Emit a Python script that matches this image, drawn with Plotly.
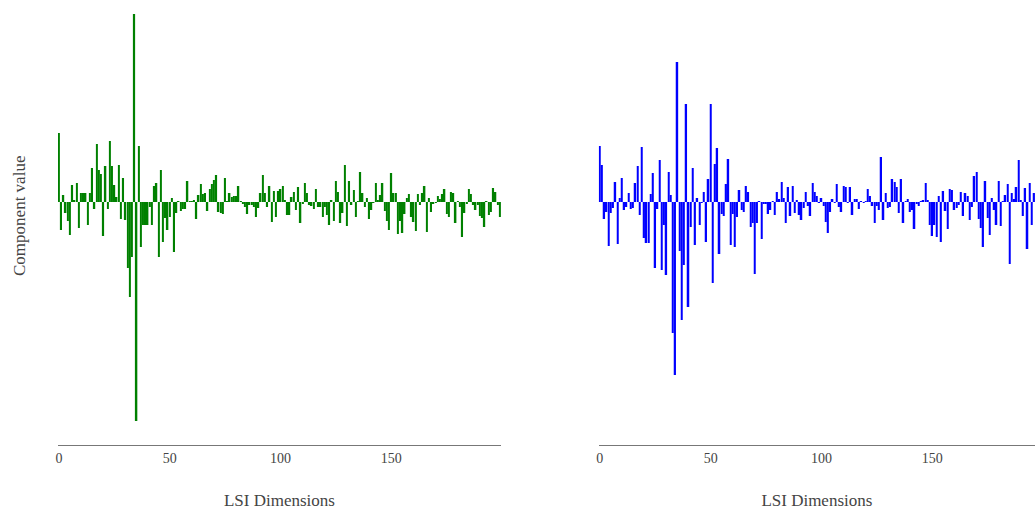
import plotly.graph_objects as go

# LSI component values for two topic vectors (index = LSI dimension)
comp_a = [
    0.069, -0.028, 0.007, -0.011, -0.019, -0.033, 0.017, 0.002, 0.019, -0.026,
    0.009, 0.009, 0.009, -0.023, 0.009, 0.034, -0.007, 0.058, 0.032, 0.028,
    -0.034, 0.036, -0.007, 0.061, 0.036, 0.017, 0.005, 0.037, -0.017, 0.024,
    -0.018, -0.066, -0.095, -0.055, 0.188, -0.219, 0.056, -0.045, -0.023, -0.023,
    -0.023, -0.005, -0.023, 0.016, 0.019, -0.055, 0.032, -0.040, -0.016, -0.028,
    -0.015, 0.004, -0.050, -0.011, 0.001, -0.009, -0.007, -0.007, 0.021, 0.001,
    0.001, 0.002, -0.017, 0.007, 0.018, 0.008, 0.009, -0.009, 0.013, 0.018,
    0.022, 0.027, -0.010, -0.011, -0.012, 0.024, 0.001, 0.009, 0.005, 0.006,
    0.006, 0.016, 0.001, -0.002, -0.005, -0.012, -0.003, -0.003, -0.005, -0.015,
    -0.006, 0.009, 0.027, 0.009, -0.005, 0.016, -0.020, 0.011, -0.015, 0.011,
    0.013, 0.016, 0.002, -0.013, -0.013, 0.005, 0.010, -0.008, 0.015, -0.021,
    -0.002, 0.019, 0.009, -0.003, -0.004, -0.007, 0.013, -0.005, -0.005, -0.015,
    -0.005, -0.013, -0.023, 0.002, -0.019, 0.021, 0.010, -0.021, -0.011, 0.037,
    -0.024, 0.021, -0.003, 0.012, -0.015, 0.001, 0.030, 0.009, -0.005, 0.004,
    -0.017, -0.008, -0.001, 0.019, 0.002, 0.007, 0.019, -0.009, -0.019, -0.028,
    0.029, 0.009, 0.009, -0.032, -0.019, -0.031, -0.012, 0.004, 0.008, -0.015,
    -0.020, -0.029, 0.008, -0.003, 0.009, 0.016, -0.030, 0.004, -0.010, -0.002,
    -0.001, 0.006, 0.003, 0.008, 0.013, -0.012, -0.015, 0.010, 0.009, -0.021,
    0.001, -0.005, -0.035, -0.011, -0.002, 0.013, 0.008, -0.003, -0.008, -0.003,
    -0.014, -0.016, -0.025, 0.001, -0.013, -0.010, 0.014, 0.010, -0.003, -0.015,
]

comp_b = [
    0.056, 0.037, -0.017, -0.010, -0.044, -0.011, -0.006, 0.020, -0.042, 0.004,
    0.024, -0.008, -0.005, 0.009, -0.007, -0.006, 0.019, 0.036, -0.013, 0.055,
    -0.036, -0.041, -0.041, 0.008, 0.029, -0.066, -0.007, 0.042, -0.068, -0.023,
    -0.073, 0.030, 0.007, -0.131, -0.173, 0.140, -0.049, -0.118, -0.063, 0.098,
    -0.105, -0.025, 0.034, -0.043, 0.004, -0.023, -0.001, 0.010, -0.040, 0.023,
    0.098, -0.081, 0.038, 0.054, -0.052, -0.012, -0.014, 0.018, 0.043, -0.043,
    -0.012, -0.045, -0.015, 0.012, -0.008, -0.010, 0.016, 0.010, -0.025, -0.021,
    -0.072, -0.021, 0.001, -0.037, -0.002, -0.002, -0.012, -0.008, 0.001, -0.013,
    0.010, 0.003, 0.020, 0.004, -0.021, 0.015, -0.014, 0.016, -0.011, 0.002,
    -0.013, -0.018, -0.006, 0.010, -0.004, -0.014, 0.019, 0.010, 0.006, -0.001,
    0.004, -0.004, -0.020, -0.031, -0.010, 0.003, -0.001, 0.018, -0.005, -0.010,
    0.016, 0.015, -0.001, 0.015, -0.013, 0.003, 0.003, -0.007, 0.001, -0.001,
    0.001, 0.013, 0.006, -0.004, -0.021, -0.004, -0.008, 0.045, -0.018, 0.009,
    -0.006, -0.005, 0.023, 0.020, 0.015, -0.011, 0.023, -0.021, 0.001, 0.003,
    -0.010, -0.008, -0.027, -0.002, -0.004, 0.001, 0.002, 0.019, 0.002, -0.023,
    -0.034, -0.023, -0.035, 0.006, -0.040, 0.011, -0.009, -0.027, 0.013, 0.012,
    -0.008, -0.006, -0.003, 0.010, -0.014, 0.009, 0.006, -0.018, -0.005, 0.026,
    0.030, -0.017, -0.026, -0.045, 0.021, -0.016, -0.033, 0.004, -0.008, -0.023,
    0.021, -0.024, 0.001, 0.007, 0.018, -0.062, 0.009, 0.003, 0.015, 0.042,
    0.002, -0.014, 0.014, -0.047, 0.019, -0.023, 0.009,
]

dims_a = list(range(len(comp_a)))
dims_b = list(range(len(comp_b)))

tick_vals = [0, 50, 100, 150]
x_title = "LSI Dimensions"
y_title = "Component value"

W, H = 1035, 510
FONT = "Liberation Serif"
TEXT = "#444"

fig = go.Figure()
fig.add_trace(go.Bar(x=dims_a, y=comp_a, marker=dict(color="green", line_width=0),
                     xaxis="x", yaxis="y"))
fig.add_trace(go.Bar(x=dims_b, y=comp_b, marker=dict(color="blue", line_width=0),
                     xaxis="x2", yaxis="y2"))

y_range = [-0.243, 0.202]
common_x = dict(
    tickvals=tick_vals, ticks="", showgrid=False, zeroline=False,
    showline=True, linecolor="#777", linewidth=1,
    tickfont=dict(family=FONT, size=14, color=TEXT),
    title=dict(text=x_title, font=dict(family=FONT, size=17, color=TEXT), standoff=29),
)
common_y = dict(range=y_range, visible=False, showgrid=False, zeroline=False)

fig.update_layout(
    width=W, height=H,
    margin=dict(l=0, r=0, t=0, b=65),
    paper_bgcolor="white", plot_bgcolor="white",
    showlegend=False, bargap=0.3,
    xaxis=dict(domain=[56.0 / W, 500.0 / W], range=[-0.5, 199.5], anchor="y", **common_x),
    yaxis=dict(domain=[0, 1], anchor="x", **common_y),
    xaxis2=dict(domain=[597.9 / W, 1.0], range=[-0.5, 196.39], anchor="y2", **common_x),
    yaxis2=dict(domain=[0, 1], anchor="x2", **common_y),
    annotations=[dict(
        text=y_title, textangle=-90, xref="paper", yref="paper",
        x=17 / W, y=(445 - 216) / 445, xanchor="center", yanchor="middle",
        showarrow=False, font=dict(family=FONT, size=17, color=TEXT),
    )],
)

fig.write_html("out.html")
